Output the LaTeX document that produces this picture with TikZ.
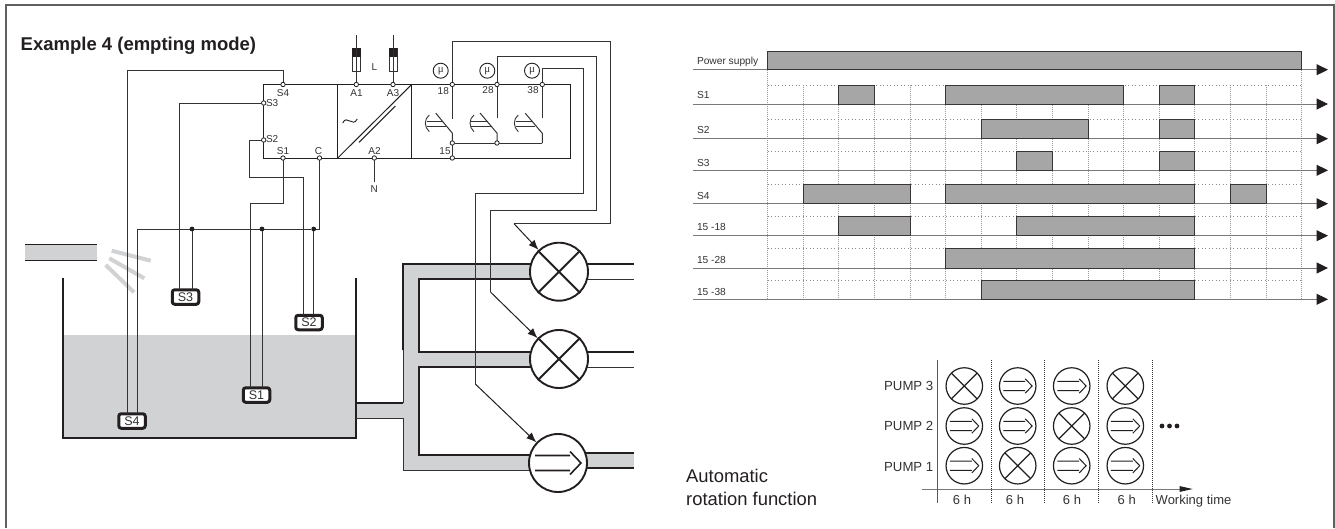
\documentclass[tikz,border=0pt]{standalone}
\usepackage{fontspec}
\setmainfont{Liberation Sans}
\newfontfamily\muserif{Liberation Serif}
\usetikzlibrary{arrows.meta,calc}
\definecolor{water}{HTML}{D0D2D3}
\definecolor{barg}{HTML}{A6A6A6}
\definecolor{ink}{HTML}{231F20}
\definecolor{wire}{HTML}{333333}
\newcommand{\fs}[1]{\fontsize{#1}{#1}\selectfont}
\newcommand{\tbar}[4]{\draw[barsty] ({767.7+35.6*#3},#1) rectangle ({767.7+35.6*#4},#2);}
\newcommand{\asym}[3]{%
 \draw[draw=ink,line width=#3] ($(#1)+(-#2*23,-#2*7.5)$) -- ($(#1)+(#2*12,-#2*7.5)$)
   ($(#1)+(-#2*23,#2*7.5)$) -- ($(#1)+(#2*12,#2*7.5)$)
   ($(#1)+(#2*12,-#2*11.5)$) -- ($(#1)+(#2*23,0)$) -- ($(#1)+(#2*12,#2*11.5)$);}
\tikzset{
 wireline/.style={draw=wire,line width=1pt},
 term/.style={circle,draw=ink,fill=white,line width=0.8pt,inner sep=0,minimum size=4.4pt,outer sep=0},
 jdot/.style={circle,fill=ink,inner sep=0,minimum size=4.8pt,outer sep=0},
 lab/.style={font=\fs{10},text=wire,inner sep=0,outer sep=0},
 sensor/.style={draw=ink,fill=white,rounded corners=2.5pt,line width=3pt,minimum width=26.5pt,minimum height=14.5pt,inner sep=0,outer sep=0,font=\fs{12.5},text=wire},
 heavy/.style={draw=ink,line width=2pt},
 bigpump/.style={circle,draw=ink,fill=white,line width=1.9pt,minimum size=58pt,inner sep=0,outer sep=1pt},
 smallpump/.style={circle,draw=ink,line width=1.2pt,minimum size=36.5pt,inner sep=0,outer sep=0},
 pumparrow/.style={draw=ink,line width=1pt,-{Latex[length=10pt,width=8pt]}},
 barsty/.style={fill=barg,draw=ink!90,line width=1pt},
 gridv/.style={draw=gray!80,line width=1pt,dash pattern=on 1pt off 1pt},
 gridh/.style={draw=gray!90,line width=1pt,dash pattern=on 1pt off 2.5pt},
 baseln/.style={draw=gray!95!black,line width=1pt,-{Triangle[length=11.5pt,width=11pt,color=ink]}},
 rowlab/.style={font=\fs{10.2},text=wire,anchor=west,inner sep=0,outer sep=0},
 plab/.style={font=\fs{13.2},text=wire,anchor=east,inner sep=0,outer sep=0},
 hlab/.style={font=\fs{13},text=wire,inner sep=0,outer sep=0},
}
\begin{document}
\begin{tikzpicture}[x=1pt,y=-1pt]
\useasboundingbox (0,0) rectangle (1335,528);
\fill[white] (0,0) rectangle (1335,528);
\draw[draw=gray!75!black,line width=2pt] (5.7,528) -- (5.7,5) -- (1334,5) -- (1334,528);
\node[anchor=base west,font=\bfseries\fs{18.5},text=ink,inner sep=0] (title) at (20.5,50) {Example 4 (empting mode)};

% tank and feed
\fill[water] (25,244.7) rectangle (97,260.7);
\draw[draw=ink,line width=1pt] (25,244.7) -- (97,244.7) (25,260.7) -- (97,260.7);
\draw[draw=water,line width=4pt] (105.7,265) -- (134,292.3) (109.3,258.3) -- (144.3,278.3) (111.7,250.7) -- (150.7,260.7);
\fill[water] (63,335) rectangle (356,438);

% pipes
\fill[water] (356,403) rectangle (403,418);
\fill[water] (403,264) rectangle (419,470);
\fill[water] (403,264) rectangle (535,279);
\fill[water] (419,351.5) rectangle (535,367);
\fill[water] (403,455) rectangle (535,470);
\fill[water] (585,453) rectangle (634,468);
\draw[heavy] (63,278) -- (63,438) -- (356,438) -- (356,278);
\draw[heavy] (403,350) -- (403,264) -- (535,264);
\draw[heavy] (535,279) -- (419,279) -- (419,351.5) -- (535,351.5);
\draw[heavy] (535,367) -- (419,367) -- (419,455) -- (535,455);
\draw[draw=ink,line width=2pt] (356,403) -- (403,403);
\draw[draw=wire,line width=1pt] (356,418) -- (403,418) (403,350) -- (403,403) (403,418) -- (403,470) -- (535,470);
\draw[heavy] (585,264) -- (634,264) (585,351.5) -- (634,351.5) (585,452.7) -- (634,452.7) (585,468) -- (634,468);
\draw[draw=wire,line width=1pt] (585,279) -- (634,279) (585,367) -- (634,367);

% pumps
\node[bigpump] (p1) at (559,271.7) {};
\node[bigpump] (p2) at (559,359) {};
\node[bigpump] (p3) at (558,463) {};
\draw[draw=ink,line width=1.9pt] (p1.45) -- (p1.225) (p1.135) -- (p1.315) (p2.45) -- (p2.225) (p2.135) -- (p2.315);
\asym{p3}{1}{1.6pt}

% relay box
\draw[draw=ink,line width=1pt] (263.7,84.5) rectangle (570,158);
\draw[draw=ink,line width=1pt] (337.7,84.5) -- (337.7,158) (411.7,84.5) -- (411.7,158);
\draw[draw=ink,line width=1pt] (337.7,158) -- (411.7,84.5);
\draw[draw=ink,line width=1pt] (359,142.3) -- (395.3,106);
\draw[draw=ink,line width=0.9pt] (342.7,123) .. controls (347,114) and (352.5,128) .. (357.3,119);

% terminals
\node[term] (tS4) at (283,84.5) {};
\node[term] (tS3) at (263.7,103) {};
\node[term] (tS2) at (263.7,140) {};
\node[term] (tS1) at (283,158) {};
\node[term] (tC) at (319.5,158) {};
\node[term] (tA1) at (356.3,84.5) {};
\node[term] (tA3) at (393,84.5) {};
\node[term] (tA2) at (374.3,158) {};
\node[term] (t18) at (452.3,84.5) {};
\node[term] (t28) at (497,84.5) {};
\node[term] (t38) at (542.3,84.5) {};
\node[term] (t15) at (452.3,158) {};
\node[term] (tc1) at (452.3,143) {};
\node[term] (tc2) at (497,143) {};
\coordinate (tc3) at (542.3,143);

\node[lab] (lS4) at (283,93.5) {S4};
\node[lab,anchor=west] (lS3) at (266,103.5) {S3};
\node[lab,anchor=west] (lS2) at (266,139.5) {S2};
\node[lab] (lS1) at (283,151) {S1};
\node[lab] (lC) at (318.5,151) {C};
\node[lab] (lA1) at (356.5,93.5) {A1};
\node[lab] (lA3) at (393,93.5) {A3};
\node[lab] (lA2) at (374.5,151) {A2};
\node[lab] (l18) at (443.3,91) {18};
\node[lab] (l28) at (488,90.5) {28};
\node[lab] (l38) at (533,90.5) {38};
\node[lab] (l15) at (445,151) {15};
\node[lab] (lL) at (374.5,67) {L};
\node[lab] (lN) at (374.3,189) {N};

% fuses
\coordinate (fL1) at (356.3,35);
\coordinate (fL2) at (393,35);
\draw[wireline] (fL1) -- (tA1.north) (fL2) -- (tA3.north) (tA2.south) -- (374.3,182);
\foreach \fx in {356.3,393}{
 \draw[draw=wire,fill=white,line width=1pt] (\fx-4,48) rectangle (\fx+4,71);
 \fill[ink] (\fx-4.3,48) rectangle (\fx+4.3,56.5);
 \draw[wireline] (\fx,48) -- (\fx,71);
}

% contacts
\draw[wireline] (t18.south) -- ++(0,32) (t28.south) -- ++(0,31) (t38.south) -- ++(0,31);
\draw[wireline] (t15.north) -- (tc1.south) (tc1.east) -- (tc2.west) (tc2.east) -- (tc3);
\draw[wireline] (tc1.north) -- ++(0,-7.7) -- ++(-16.6,-20);
\draw[wireline] (tc2.north) -- ++(0,-7.7) -- ++(-16.9,-20);
\draw[wireline] (tc3) -- ++(0,-9.7) -- ++(-17,-20);
\foreach \dx in {0,44.7,89}{
 \begin{scope}[xshift=\dx pt]
  \draw[draw=wire,line width=0.9pt] (429.3,115) .. controls (424,119) and (424,127) .. (429.3,131.7);
  \draw[draw=wire,line width=0.7pt] (426.5,121.7) -- (443,121.7) (426.5,126) -- (446,126);
 \end{scope}
}

% micro symbols
\foreach \n/\mx in {m1/440.7,m2/487.3,m3/532}{
 \node[circle,draw=ink,line width=0.9pt,minimum size=15pt,inner sep=0,font=\muserif\fs{11},text=wire] (\n) at (\mx,70.7) {μ};
}

% sensors
\node[sensor] (sS3) at (185.5,297) {S3};
\node[sensor] (sS2) at (309,322.5) {S2};
\node[sensor] (sS1) at (256.5,395) {S1};
\node[sensor] (sS4) at (132,421) {S4};
\node[jdot] (j1) at (192,229) {};
\node[jdot] (j2) at (262,229) {};
\node[jdot] (j3) at (313.7,229) {};

% sensor wiring
\draw[wireline] (tS4.north) |- (127,70) -- ([xshift=-5pt]sS4.north);
\draw[wireline] (tS3.west) -| ([xshift=-6pt]sS3.north);
\draw[wireline] (tS2.west) -- (249,140) |- (303,177) -- ([xshift=-6pt]sS2.north);
\draw[wireline] (tS1.south) |- (250.5,203) -- ([xshift=-6pt]sS1.north);
\draw[wireline] (tC.south) |- (j3.east);
\draw[wireline] (j3.west) -- (j2.east) (j2.west) -- (j1.east);
\draw[wireline] (j1.west) -| ([xshift=5.7pt]sS4.north);
\draw[wireline] (j1.south) -- (j1 |- sS3.north);
\draw[wireline] (j2.south) -- (j2 |- sS1.north);
\draw[wireline] (j3.south) -- (j3 |- sS2.north);

% control wires to pumps
\draw[wireline] (t18.north) |- (610.7,41) |- (514,223.7);
\draw[pumparrow] (514,223.7) -- (p1);
\draw[wireline] (t28.north) |- (596.7,56) |- (490.5,210) -- (490.5,292);
\draw[pumparrow] (490.5,292) -- (p2);
\draw[wireline] (t38.north) |- (583,68.7) |- (475.3,193) -- (475.3,384);
\draw[pumparrow] (475.3,384) -- (p3);

% timing chart: grid
\foreach \i in {0,...,15}{
 \draw[gridv] ({767.7+35.6*\i},{\i==0||\i==15?69.7:85}) -- ({767.7+35.6*\i},299.3);
}
\foreach \yt in {85,119.3,151,184.3,216.3,248.7,280.3}{
 \draw[gridh] (767.7,\yt) -- (1301.7,\yt);
}
% timing chart: base lines and labels
\foreach \n/\t/\yb/\yl in {r0/Power supply/69.7/61.5,r1/S1/104/95,r2/S2/138.7/130,r3/S3/170.3/162.5,r4/S4/203.7/195.5,r5/15 -18/235.7/227,r6/15 -28/268/260,r7/15 -38/299.3/291.5}{
 \node[rowlab] (\n) at (697,\yl) {\t};
 \draw[baseln] (692.7,\yb) -- (1328,\yb);
}
% timing chart: bars
\tbar{51}{69.7}{0}{15}
\tbar{85}{104}{2}{3}\tbar{85}{104}{5}{10}\tbar{85}{104}{11}{12}
\tbar{119.3}{138.7}{6}{9}\tbar{119.3}{138.7}{11}{12}
\tbar{151}{170.3}{7}{8}\tbar{151}{170.3}{11}{12}
\tbar{184.3}{203.7}{1}{4}\tbar{184.3}{203.7}{5}{12}\tbar{184.3}{203.7}{13}{14}
\tbar{216.3}{235.7}{2}{4}\tbar{216.3}{235.7}{7}{12}
\tbar{248.7}{268}{5}{12}
\tbar{280.3}{299.3}{6}{12}

% rotation chart
\node[anchor=base west,font=\fs{18.4},text=ink,inner sep=0] (auto1) at (686,482.5) {Automatic};
\node[anchor=base west,font=\fs{18.4},text=ink,inner sep=0] (auto2) at (686,505.5) {rotation function};
\foreach \dx in {991,1044.3,1098.3,1152}{
 \draw[draw=wire,line width=1pt,dash pattern=on 1pt off 1pt] (\dx,360) -- (\dx,503);
}
\coordinate (axL) at (921.7,489);
\coordinate (axR) at (1192.7,489);
\draw[draw=gray!95!black,line width=1pt,-{Triangle[length=13pt,width=5.5pt,color=ink]}] (axL) -- (axR);
\coordinate (ayT) at (937,360);
\coordinate (ayB) at (937,503);
\draw[draw=gray!70!black,line width=1pt] (ayT) -- (ayB);
\node[plab] (pl3) at (933.3,385.5) {PUMP 3};
\node[plab] (pl2) at (933.3,425.5) {PUMP 2};
\node[plab] (pl1) at (933.3,467) {PUMP 1};
\foreach \nm/\cx/\cy/\kind in {
 a1/964.3/386/x,a2/1017.7/386/a,a3/1071.7/386/a,a4/1125.3/386/x,
 b1/964.3/426/a,b2/1017.7/426/a,b3/1071.7/426/x,b4/1125.3/426/a,
 c1/964.3/465.7/a,c2/1017.7/465.7/x,c3/1071.7/465.7/a,c4/1125.3/465.7/a}{
 \node[smallpump] (\nm) at (\cx,\cy) {};
 \if\kind x
  \draw[draw=ink,line width=1.2pt] (\nm.45) -- (\nm.225) (\nm.135) -- (\nm.315);
 \else
  \asym{\nm}{0.627}{1pt}
 \fi
}
\foreach \cx in {1162,1169.5,1177}{\fill[ink] (\cx,426) circle (2.4pt);}
\node[hlab] (h1) at (962,500) {6 h};
\node[hlab] (h2) at (1015,499.5) {6 h};
\node[hlab] (h3) at (1072,499.5) {6 h};
\node[hlab] (h4) at (1126.7,499.5) {6 h};
\node[hlab,anchor=west] (wt) at (1155.7,501.5) {Working time};
\end{tikzpicture}
\end{document}
